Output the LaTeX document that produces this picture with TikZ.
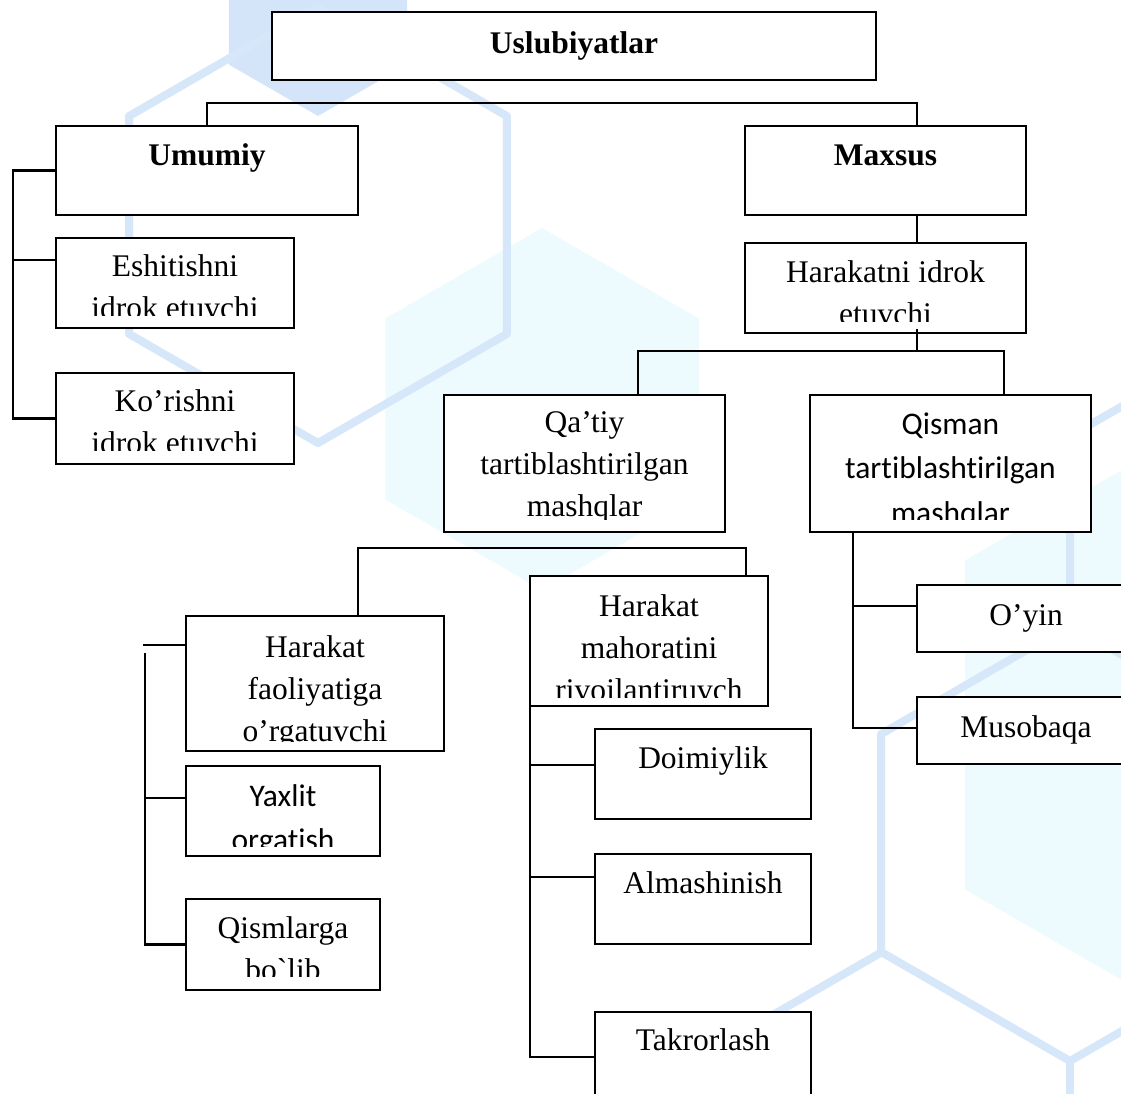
\documentclass[tikz,border=0pt]{standalone}
\usepackage{fontspec}
\setmainfont{Liberation Serif}
\newfontfamily\calfont[Ligatures=NoCommon]{Carlito}
\definecolor{wmline}{RGB}{215,231,250}
\definecolor{wmfill}{RGB}{237,251,255}
\definecolor{wmdark}{RGB}{212,229,250}
\tikzset{
  bx/.style={draw=black, line width=2.3pt, fill=white, rectangle, inner sep=0pt, outer sep=0pt, anchor=north west},
  ln/.style={draw=black, line width=2.3pt},
  tnr/.style={font=\fontsize{31.5}{42}\selectfont, inner sep=0pt, anchor=base},
  bold/.style={font=\fontsize{31.5}{42}\selectfont\bfseries, inner sep=0pt, anchor=base},
  cal/.style={font=\calfont\fontsize{31.5}{44}\selectfont, inner sep=0pt, anchor=base},
  wm/.style={draw=wmline, line width=8pt, line join=round},
}
\def\lsptnr{42}
\def\lspbold{42}
\def\lspcal{44.5}
\newcommand\hexfill[4]{\fill[#4] (#1,#2) ++(90:#3) -- ++(210:#3) -- ++(270:#3) -- ++(330:#3) -- ++(30:#3) -- ++(90:#3) -- cycle;}
\newcommand\hexline[3]{\draw[wm] (#1,#2) ++(90:#3) -- ++(210:#3) -- ++(270:#3) -- ++(330:#3) -- ++(30:#3) -- ++(90:#3) -- cycle;}
% #1 style, #2 name, #3 x1, #4 y1, #5 x2, #6 y2, #7 first baseline, #8 clip y, #9 lines
\newcommand\tbox[9]{%
  \node[bx, minimum width={#5-#3}, minimum height={#6-#4}] (#2) at (#3,#4) {};
  \begin{scope}
    \clip (#3+2,#4+2) rectangle (#5-2,#8);
    \foreach \t [count=\i from 0] in {#9} {
      \node[#1] (#2-\i) at ({(#3+#5)/2}, {#7+\i*\csname lsp#1\endcsname}) {\t};
    }
  \end{scope}}
\begin{document}
\begin{tikzpicture}[x=1pt, y=-1pt]
\useasboundingbox (0,0) rectangle (1121,1093);
\clip (0,0) rectangle (1121,1093);
\fill[white] (0,0) rectangle (1121,1093);
% watermark
\hexfill{318}{13}{103}{wmdark}
\hexfill{542}{409}{181}{wmfill}
\hexfill{1250}{725}{329}{wmfill}
\hexline{318}{225}{218}
\hexline{1070}{843}{218}
\draw[wm] (882,952) -- (693,1061);
\draw[wm] (1070,1061) -- (1070,1100);
\draw[wm] (1070,625) -- (1070,436) -- (1140,396);
% boxes
\tbox{bold}{usl}{272}{12}{876}{80}{53}{80}{Uslubiyatlar}
\tbox{bold}{umumiy}{56}{126}{358}{215}{165}{215}{Umumiy}
\tbox{bold}{maxsus}{745}{126}{1026}{215}{165}{215}{Maxsus}
\tbox{tnr}{eshit}{56}{238}{294}{328}{276}{315}{Eshitishni,idrok etuvchi}
\tbox{tnr}{korish}{56}{373}{294}{464}{411}{450}{Ko’rishni,idrok etuvchi}
\tbox{tnr}{harak}{745}{243}{1026}{333}{282}{321}{Harakatni idrok,etuvchi}
\tbox{tnr}{qatiy}{444}{395}{725}{532}{432}{519}{Qa’tiy,tartiblashtirilgan,mashqlar}
\tbox{cal}{qisman}{810}{395}{1091}{532}{434}{519}{Qisman,tartiblashtirilgan,mashqlar}
\tbox{tnr}{hf}{186}{616}{444}{751}{657}{741}{Harakat,faoliyatiga,o’rgatuvchi}
\tbox{cal}{yaxlit}{186}{766}{380}{856}{806}{846}{Yaxlit,orgatish}
\tbox{tnr}{qism}{186}{899}{380}{990}{938}{976}{Qismlarga,bo\textasciigrave lib}
\tbox{tnr}{hm}{530}{576}{768}{706}{616}{697}{Harakat,mahoratini,rivojlantiruvch}
\tbox{tnr}{doim}{595}{729}{811}{819}{768}{819}{Doimiylik}
\tbox{tnr}{almash}{595}{854}{811}{944}{893}{944}{Almashinish}
\tbox{tnr}{takror}{595}{1012}{811}{1120}{1050}{1120}{Takrorlash}
\tbox{tnr}{oyin}{917}{585}{1135}{652}{625}{652}{O’yin}
\tbox{tnr}{musob}{917}{697}{1135}{764}{737}{764}{Musobaqa}
% connectors
\coordinate (b1) at (917,103);
\draw[ln] (umumiy.north) |- (b1) -- (b1 |- maxsus.north);
\coordinate (lb1) at (13,171);
\coordinate (lb2) at (13,260);
\draw[ln] (umumiy.west) -- (umumiy.west -| lb1) |- (korish.west);
\draw[ln] (lb2) -- (lb2 -| eshit.west);
\draw[ln] (maxsus.south -| b1) -- (harak.north -| b1);
\coordinate (b2) at (917,351);
\coordinate (h2) at ([yshift=4pt]harak.south);
\draw[ln] (h2 -| b2) -- (b2);
\coordinate (c1) at (638,351);
\coordinate (c2) at (1004,351);
\draw[ln] (qatiy.north -| c1) -- (c1) -- (c2) -- (qisman.north -| c2);
\coordinate (b3) at (746,548);
\coordinate (c3) at (358,548);
\draw[ln] (hf.north -| c3) -- (c3) -- (b3) -- (b3 |- hm.north);
\coordinate (s1) at (143,645);
\draw[ln] (s1) -- (s1 -| hf.west);
\coordinate (v1) at (145,653);
\draw[ln] (v1) |- (qism.west);
\coordinate (v2) at (145,798);
\draw[ln] (v2) -- (v2 -| yaxlit.west);
\coordinate (v3) at (530,654);
\coordinate (v4) at (530,1057);
\coordinate (v5) at (530,765);
\coordinate (v6) at (530,877);
\draw[ln] (v3) -- (v4) -- (v4 -| takror.west);
\draw[ln] (v5) -- (v5 -| doim.west);
\draw[ln] (v6) -- (v6 -| almash.west);
\coordinate (q1) at (853,606);
\coordinate (q2) at (853,728);
\draw[ln] (qisman.south -| q1) -- (q2) -- (q2 -| musob.west);
\draw[ln] (q1) -- (q1 -| oyin.west);
\end{tikzpicture}
\end{document}
